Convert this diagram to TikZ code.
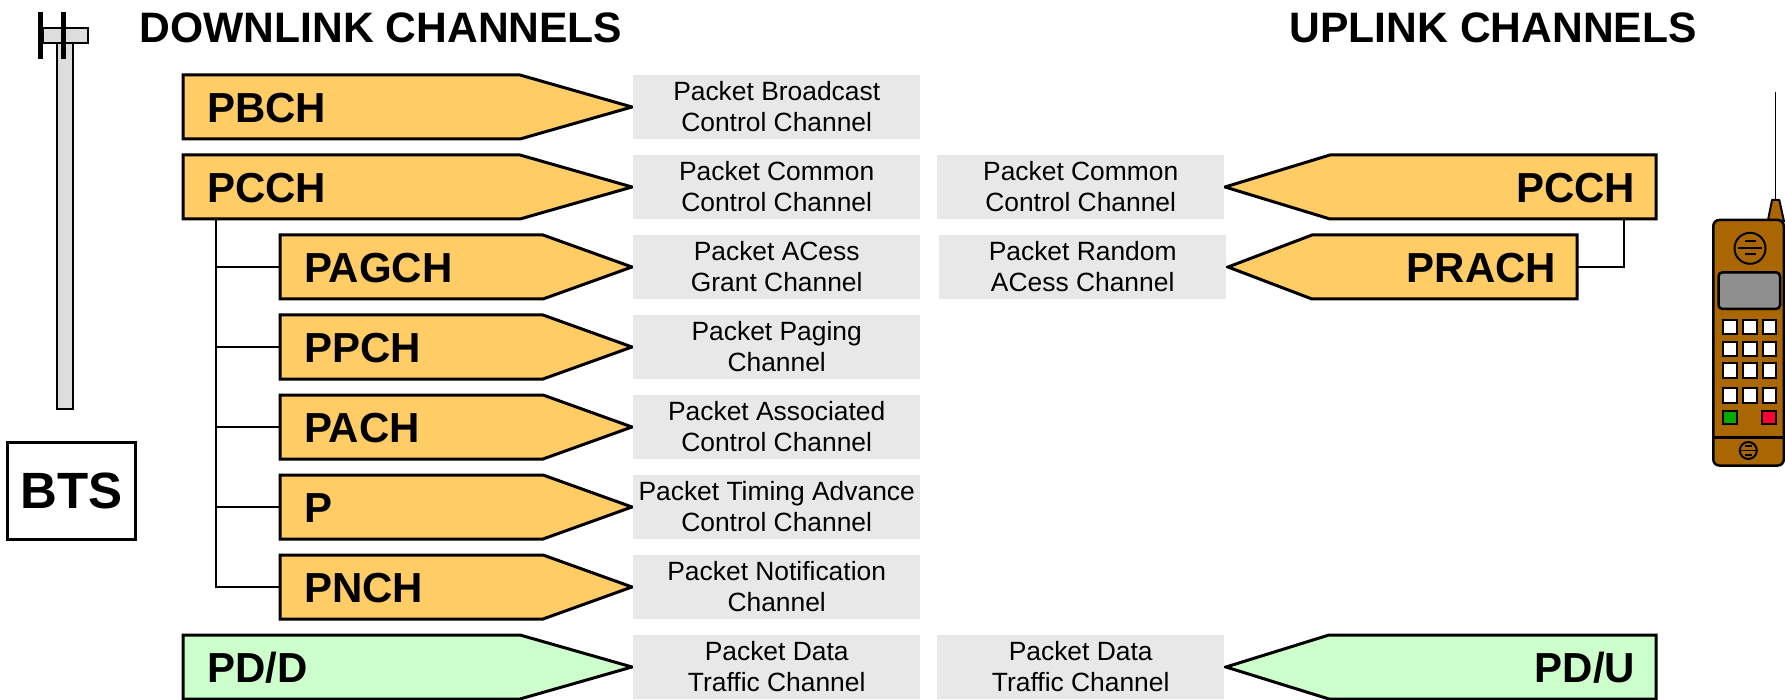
\documentclass[tikz,border=0pt]{standalone}
\usepackage{fontspec}
\setmainfont{Liberation Sans}
\pgfdeclarelayer{background}
\pgfsetlayers{background,main}
\definecolor{chanorange}{RGB}{255,204,102}
\definecolor{changreen}{RGB}{204,255,204}
\definecolor{boxgrey}{RGB}{232,232,232}
\definecolor{mastgrey}{RGB}{221,221,221}
\definecolor{phonebrown}{RGB}{170,102,0}
\definecolor{screengrey}{RGB}{143,143,143}
\definecolor{keygreen}{RGB}{0,170,0}
\definecolor{keyred}{RGB}{255,0,51}
\begin{document}
\begin{tikzpicture}[x=1pt,y=-1pt,
  chan/.style={rectangle, inner xsep=#1, inner ysep=0pt, minimum height=64pt,
    text height=31pt, text depth=0pt, outer sep=0pt,
    font=\fontsize{42}{42}\selectfont\bfseries},
  down/.style={chan=24pt, anchor=west, align=left},
  up/.style={chan=21pt, anchor=east, align=right},
  chanshape/.style={draw=black, line width=3pt, line join=miter},
  infobox/.style={rectangle, fill=boxgrey, minimum width=287pt, minimum height=64pt,
    inner sep=0pt, align=center, anchor=west, font=\fontsize{26.4}{31}\selectfont},
  heading/.style={inner sep=0pt, font=\fontsize{42.6}{42.6}\selectfont\bfseries},
  link/.style={draw=black, line width=2.5pt},
  key/.style={draw=black, line width=2pt, fill=white}
]
\useasboundingbox (0,0) rectangle (1785,700);

% ---------- headings ----------
\node[heading, anchor=base west] (dlhead) at (139.5,43) {DOWNLINK CHANNELS};
\node[heading, anchor=base east] (ulhead) at (1697,43) {UPLINK CHANNELS};

% ---------- downlink channel labels ----------
\node[down, text width=289pt] (pbch)  at (183,107) {PBCH};
\node[down, text width=289pt] (pcchd) at (183,187) {PCCH};
\node[down, text width=215pt] (pagch) at (280,267) {PAGCH};
\node[down, text width=215pt] (ppch)  at (280,347) {PPCH};
\node[down, text width=215pt] (pach)  at (280,427) {PACH};
\node[down, text width=215pt] (ptach) at (280,507) {P};
\node[down, text width=215pt] (pnch)  at (280,587) {PNCH};
\node[down, text width=289pt] (pdd)   at (183,667) {PD/D};

% ---------- uplink channel labels ----------
\node[up, text width=284pt] (pcchu) at (1656,187) {PCCH};
\node[up, text width=223pt] (prach) at (1577,267) {PRACH};
\node[up, text width=285pt] (pdu)   at (1656,667) {PD/U};

% ---------- pointed channel shapes behind the labels ----------
\begin{pgfonlayer}{background}
  \foreach \n/\tip/\col in {pbch/112/chanorange, pcchd/112/chanorange,
      pagch/89/chanorange, ppch/89/chanorange, pach/89/chanorange,
      ptach/89/chanorange, pnch/89/chanorange, pdd/112/changreen}{
    \draw[chanshape, fill=\col] (\n.north west) -- (\n.north east)
      -- ([xshift=\tip pt]\n.east) -- (\n.south east) -- (\n.south west) -- cycle;
  }
  \foreach \n/\tip/\col in {pcchu/105/chanorange, prach/84/chanorange,
      pdu/103/changreen}{
    \draw[chanshape, fill=\col] (\n.north east) -- (\n.north west)
      -- ([xshift=-\tip pt]\n.west) -- (\n.south west) -- (\n.south east) -- cycle;
  }
\end{pgfonlayer}

% ---------- channel descriptions ----------
\node[infobox] (dpbch)  at (633,107) {Packet Broadcast\\Control Channel};
\node[infobox] (dpcchd) at (633,187) {Packet Common\\Control Channel};
\node[infobox] (dpagch) at (633,267) {Packet ACess\\Grant Channel};
\node[infobox] (dppch)  at (633,347) {Packet Paging\\Channel};
\node[infobox] (dpach)  at (633,427) {Packet Associated\\Control Channel};
\node[infobox] (dptach) at (633,507) {Packet Timing Advance\\Control Channel};
\node[infobox] (dpnch)  at (633,587) {Packet Notification\\Channel};
\node[infobox] (dpdd)   at (633,667) {Packet Data\\Traffic Channel};
\node[infobox] (dpcchu) at (937,187) {Packet Common\\Control Channel};
\node[infobox] (dprach) at (939,267) {Packet Random\\ACess Channel};
\node[infobox] (dpdu)   at (937,667) {Packet Data\\Traffic Channel};

% ---------- sub-channel tree under the downlink PCCH ----------
\coordinate (trunk) at (216,219);
\draw[link] (trunk) |- (pnch.west);
\foreach \n in {pagch,ppch,pach,ptach}{
  \draw[link] (trunk |- \n.west) -- (\n.west);
}

% ---------- uplink PRACH joined to PCCH ----------
\coordinate (ujoint) at (1624,219);
\draw[link] (prach.east) -| (ujoint);

% ---------- base station mast ----------
\draw[fill=mastgrey, line width=2.2pt] (57,43) rectangle (73,409);
\draw[fill=mastgrey, line width=2.2pt] (43,28) rectangle (88,43);
\draw[line width=5pt] (40.2,12) -- (40.2,59);
\draw[line width=5pt] (63.5,12) -- (63.5,59);
\node[draw=black, line width=2.2pt, minimum width=128pt, minimum height=97pt,
  inner sep=0pt, font=\fontsize{51}{51}\selectfont\bfseries] (bts) at (71.5,491) {BTS};

% ---------- mobile handset ----------
\draw[line width=1.5pt] (1775.7,92) -- (1775.7,201);
\draw[fill=phonebrown, line width=2pt, line join=round]
  (1772,200) -- (1779.3,200) -- (1784,221.5) -- (1767.7,221.5) -- cycle;
\draw[fill=phonebrown, line width=2.5pt, rounded corners=6pt]
  (1713.3,220) rectangle (1783.8,465.5);
\draw[line width=2.5pt] (1713.3,437.3) -- (1783.8,437.3);
% earpiece
\draw[line width=2pt] (1750,248.3) circle[radius=15.5];
\draw[line width=2pt] (1745,241) -- (1756,241);
\draw[line width=2pt] (1738,248) -- (1762,248);
\draw[line width=2pt] (1745,254.5) -- (1756,254.5);
% display
\draw[fill=screengrey, line width=2.5pt, rounded corners=4pt]
  (1718.5,272.3) rectangle (1780,309);
% keypad
\foreach \kx in {1723.3,1743.3,1762.7}{
  \foreach \ky in {320,341.7,363.3,388.3}{
    \draw[key] (\kx,\ky) rectangle ++(13.4,14.2);
  }
}
\draw[key, fill=keygreen] (1723.3,410.7) rectangle (1737.3,424.3);
\draw[key, fill=keyred] (1762.3,410.7) rectangle (1776,424.3);
% mouthpiece
\draw[line width=2pt] (1748.3,450.5) circle[radius=8.5];
\draw[line width=1.8pt] (1745,446) -- (1752,446);
\draw[line width=1.8pt] (1741,450.5) -- (1755.5,450.5);
\draw[line width=1.8pt] (1745,455) -- (1752,455);
\end{tikzpicture}
\end{document}
